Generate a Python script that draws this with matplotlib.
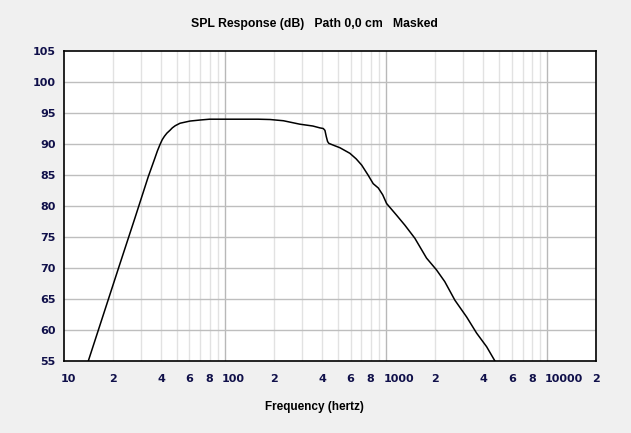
import matplotlib
matplotlib.use("Agg")
import matplotlib.pyplot as plt
import matplotlib.transforms as mtransforms
from matplotlib.ticker import FixedLocator, NullLocator

# Данные кривой АЧХ
freq = [14.15, 21.8, 27.5, 33.3, 36.5, 38, 39.4, 40.7, 42, 43.5, 45.4, 47, 49,
        52.5, 60.5, 70, 80, 100, 130, 160, 190, 230, 290, 350, 387, 406, 416,
        424, 432, 440, 450, 470, 515, 594, 650, 703, 770, 829, 892, 950, 1004,
        1159, 1304, 1503, 1776, 2047, 2305, 2664, 3150, 3632, 4192, 4720]
spl = [55, 70, 78, 84.7, 87.6, 88.9, 89.9, 90.7, 91.25, 91.75, 92.2, 92.6, 92.95,
       93.35, 93.7, 93.87, 94, 94, 94, 94, 93.95, 93.75, 93.2, 92.9, 92.6, 92.5,
       92.2, 91.2, 90.4, 90.1, 90.0, 89.8, 89.4, 88.5, 87.6, 86.6, 85, 83.6,
       82.9, 81.8, 80.4, 78.5, 76.9, 74.8, 71.6, 69.7, 67.8, 64.8, 62.1, 59.5,
       57.3, 55]

x_ticks = [10, 20, 40, 60, 80, 100, 200, 400, 600, 800, 1000, 2000, 4000, 6000,
           8000, 10000, 20000]
x_labels = ["10", "2", "4", "6", "8", "100", "2", "4", "6", "8", "1000", "2",
            "4", "6", "8", "10000", "2"]
y_ticks = [55, 60, 65, 70, 75, 80, 85, 90, 95, 100, 105]

title_text = "SPL Response (dB)   Path 0,0 cm   Masked"
xlabel_text = "Frequency (hertz)"

fig = plt.figure(figsize=(6.31, 4.33), dpi=100, facecolor="#F0F0F0")
ax = fig.add_axes([64 / 631, 72 / 433, 532 / 631, 310 / 433])
ax.set_facecolor("white")

ax.set_xscale("log")
ax.set_xlim(10, 20000)
ax.set_ylim(55, 105)

# Сетка: второстепенные линии светлее
minor = [m * 10 ** d for d in range(1, 5) for m in range(2, 10)] + [20000]
for v in minor:
    ax.axvline(v, color="#E2E2E2", lw=1, zorder=0)
for v in [100, 1000, 10000]:
    ax.axvline(v, color="#B8B8B8", lw=1, zorder=0)
for v in y_ticks[1:-1]:
    ax.axhline(v, color="#BEBEBE", lw=1, zorder=0)

ax.plot(freq, spl, color="black", lw=1.1, zorder=3)

ax.xaxis.set_major_locator(FixedLocator(x_ticks))
ax.xaxis.set_minor_locator(NullLocator())
ax.set_xticklabels(x_labels)
ax.set_yticks(y_ticks)
ax.tick_params(length=0, labelsize=8, colors="#10104A")
ax.tick_params(axis="x", pad=9)
ax.tick_params(axis="y", pad=6)
for lab in ax.get_xticklabels() + ax.get_yticklabels():
    lab.set_fontweight("bold")

# Подписи декад начинаются от линии сетки, а не по центру
shift = mtransforms.ScaledTranslation(-0.03, 0, fig.dpi_scale_trans)
for lab in ax.get_xticklabels():
    if len(lab.get_text()) > 1:
        lab.set_horizontalalignment("left")
        lab.set_transform(lab.get_transform() + shift)

for sp in ax.spines.values():
    sp.set_color("black")
    sp.set_linewidth(1.2)

fig.text(314 / 631, 1 - 24 / 433, title_text, ha="center", va="center",
         fontsize=8.8, fontweight="bold", family="Liberation Sans")
fig.text(314 / 631, 1 - 407 / 433, xlabel_text, ha="center", va="center",
         fontsize=8.5, fontweight="bold", family="Liberation Sans")

fig.savefig("out.png", dpi=100, facecolor=fig.get_facecolor())
